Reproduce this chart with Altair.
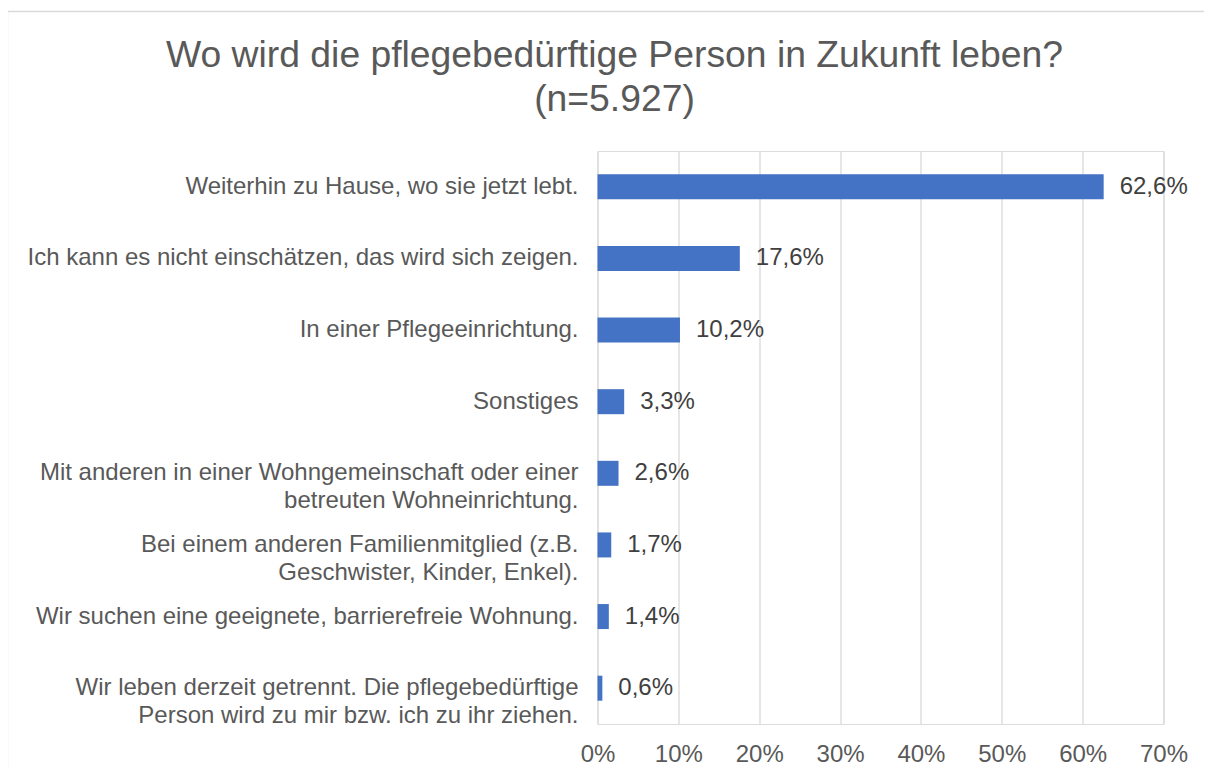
import altair as alt
import pandas as pd

categories = [
    "Weiterhin zu Hause, wo sie jetzt lebt.",
    "Ich kann es nicht einschätzen, das wird sich zeigen.",
    "In einer Pflegeeinrichtung.",
    "Sonstiges",
    "Mit anderen in einer Wohngemeinschaft oder einer|betreuten Wohneinrichtung.",
    "Bei einem anderen Familienmitglied (z.B.|Geschwister, Kinder, Enkel).",
    "Wir suchen eine geeignete, barrierefreie Wohnung.",
    "Wir leben derzeit getrennt. Die pflegebedürftige|Person wird zu mir bzw. ich zu ihr ziehen.",
]
values = [62.6, 17.6, 10.2, 3.3, 2.6, 1.7, 1.4, 0.6]
x_ticks = [0, 10, 20, 30, 40, 50, 60, 70]
title_lines = ["Wo wird die pflegebedürftige Person in Zukunft leben?", "(n=5.927)"]

labels = [f"{v:.1f}".replace(".", ",") + "%" for v in values]
df = pd.DataFrame({"cat": categories, "val": values, "lab": labels})
one = pd.DataFrame({"k": [0]})

FONT = "Liberation Sans"
GRAY = "#595959"

y_enc = alt.Y(
    "cat:N",
    sort=None,
    title=None,
    axis=alt.Axis(
        labelExpr="split(datum.label, '|')",
        labelFontSize=24,
        labelColor=GRAY,
        labelFont=FONT,
        labelPadding=19.5,
        labelLimit=700,
        labelLineHeight=28,
        ticks=False,
        domain=False,
        grid=False,
    ),
)
x_enc = alt.X(
    "val:Q",
    title=None,
    scale=alt.Scale(domain=[0, 70], nice=False),
    axis=alt.Axis(
        values=x_ticks,
        labelExpr="datum.value + '%'",
        labelFontSize=24,
        labelColor=GRAY,
        labelFont=FONT,
        labelPadding=18,
        labelFlush=False,
        labelOverlap=False,
        ticks=False,
        domain=False,
        grid=True,
        gridColor="#d9d9d9",
        gridWidth=1.3,
    ),
)

bars = alt.Chart(df).mark_bar(color="#4472C4", size=25).encode(x=x_enc, y=y_enc)
texts = alt.Chart(df).mark_text(
    align="left", baseline="middle", dx=16, fontSize=24, font=FONT, color="#404040"
).encode(x="val:Q", y=alt.Y("cat:N", sort=None), text="lab:N")

title = alt.Chart(one).mark_text(
    align="center", baseline="alphabetic", fontSize=37.3, font=FONT,
    color=GRAY, lineHeight=44,
).encode(x=alt.value(17), y=alt.value(-84), text=alt.value(title_lines))

border_top = alt.Chart(one).mark_rule(color="#d9d9d9", strokeWidth=1.3).encode(
    x=alt.value(-590), x2=alt.value(640), y=alt.value(-139.5)
)
border_left = alt.Chart(one).mark_rule(color="#d9d9d9", strokeWidth=1.3).encode(
    x=alt.value(-590), y=alt.value(-139.5), y2=alt.value(640)
)

chart = (
    alt.layer(border_top, border_left, bars, texts, title)
    .properties(
        width=566,
        height=573,
        autosize=alt.AutoSizeParams(type="none"),
        padding={"left": 589.5, "top": 143, "right": 40, "bottom": 44},
    )
    .configure_view(stroke=None)
    .configure(background="white")
)

chart.save("out.html", embed_options={"renderer": "svg", "actions": False})
